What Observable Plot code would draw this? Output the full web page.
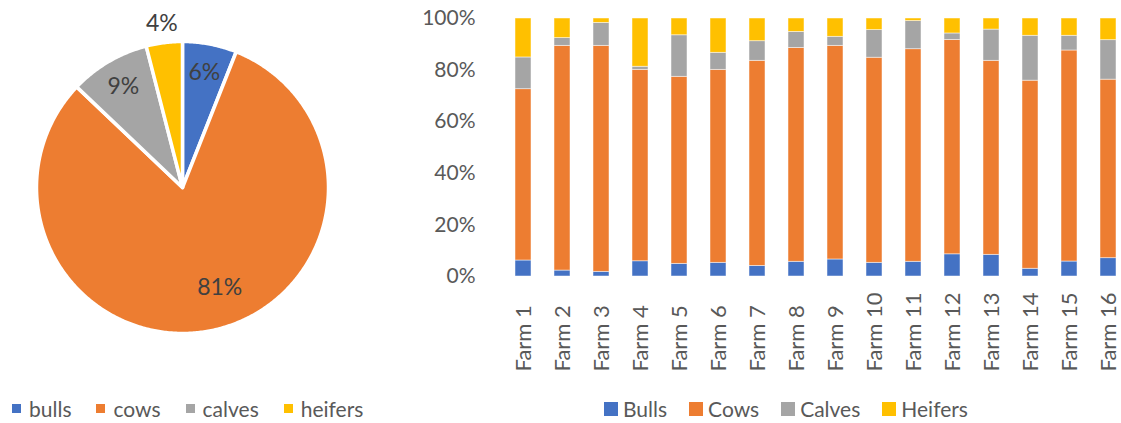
<!DOCTYPE html>
<html>
<head>
<meta charset="utf-8">
<script src="https://cdn.jsdelivr.net/npm/d3@7"></script>
<script src="https://cdn.jsdelivr.net/npm/@observablehq/plot@0.6"></script>
<style>
  body { margin: 0; background: white; }
  #wrap { position: relative; width: 1121px; height: 423px; overflow: hidden; font-family: Lato, "Open Sans", sans-serif; }
  #pie { position: absolute; left: 0; top: 0; }
  #bars { position: absolute; left: 400px; top: 0; }
  .legend { position: absolute; display: flex; align-items: center; color: #595959; white-space: nowrap; }
  .legend .item { display: flex; align-items: center; }
  .legend .sw { display: inline-block; }
  #pieLegend { left: 12px; top: 396px; font-size: 21px; }
  #pieLegend .item { margin-right: 25px; }
  #pieLegend .sw { width: 9px; height: 9px; margin-right: 8px; }
  #barLegend { left: 604px; top: 396px; font-size: 21px; }
  #barLegend .item { margin-right: 22px; }
  #barLegend .sw { width: 14px; height: 14px; margin-right: 5px; }
</style>
</head>
<body>
<div id="wrap">
  <div id="pie"></div>
  <div id="bars"></div>
  <div id="pieLegend" class="legend"></div>
  <div id="barLegend" class="legend"></div>
</div>
<script>
// ---------- data ----------
const pieCategories = ["bulls", "cows", "calves", "heifers"];
const pieValues = [6.0, 81.1, 8.9, 4.0];

const farms = ["Farm 1", "Farm 2", "Farm 3", "Farm 4", "Farm 5", "Farm 6", "Farm 7", "Farm 8",
               "Farm 9", "Farm 10", "Farm 11", "Farm 12", "Farm 13", "Farm 14", "Farm 15", "Farm 16"];
const barCategories = ["Bulls", "Cows", "Calves", "Heifers"];
const bulls   = [6.2, 2.3, 1.8, 5.9, 4.9, 5.3, 4.1, 5.7, 6.6, 5.3, 5.7, 8.6, 8.4, 3.0, 5.8, 7.1];
const cows    = [66.4, 87.1, 87.6, 74.2, 72.5, 74.8, 79.5, 82.9, 82.8, 79.5, 82.4, 83.1, 75.2, 72.9, 81.8, 69.2];
const calves  = [12.3, 3.0, 8.9, 1.2, 16.1, 6.6, 7.6, 6.2, 3.5, 10.7, 10.9, 2.5, 12.1, 17.4, 5.7, 15.3];
const heifers = [15.1, 7.6, 1.7, 18.7, 6.5, 13.3, 8.8, 5.2, 7.1, 4.5, 1.0, 5.8, 4.3, 6.7, 6.7, 8.4];
const yTicks = [0, 0.2, 0.4, 0.6, 0.8, 1.0];

const colors = ["#4472C4", "#ED7D31", "#A5A5A5", "#FFC000"];

// ---------- pie ----------
const R = 146;
const arcs = d3.pie().sort(null).value(d => d.value)(
  pieCategories.map((c, i) => ({cat: c, value: pieValues[i]}))
);
const total = d3.sum(pieValues);
function polygon(a) {
  const pts = [{x: 0, y: 0}];
  const n = Math.max(2, Math.ceil((a.endAngle - a.startAngle) / 0.01));
  for (let k = 0; k <= n; k++) {
    const t = a.startAngle + (a.endAngle - a.startAngle) * k / n;
    pts.push({x: R * Math.sin(t), y: R * Math.cos(t)});
  }
  pts.push({x: 0, y: 0});
  return pts;
}
const labels = arcs.map(a => {
  let mid = (a.startAngle + a.endAngle) / 2;
  const pct = a.data.value / total;
  let r = 0.8 * R;
  if (pct < 0.05) r = R + 19;
  else if (pct > 0.5) { r = 0.73 * R; mid -= 0.14; }
  return {x: r * Math.sin(mid), y: r * Math.cos(mid), text: Math.round(pct * 100) + "%"};
});

const pie = Plot.plot({
  width: 364, height: 380,
  margin: 0,
  x: {domain: [-182, 182], axis: null},
  y: {domain: [-193, 187], axis: null},
  style: {fontFamily: "Lato, sans-serif", background: "transparent"},
  marks: [
    ...arcs.map((a, i) => Plot.line(polygon(a), {
      x: "x", y: "y", fill: colors[i], stroke: "white", strokeWidth: 3.5, strokeLinejoin: "round"
    })),
    Plot.text(labels, {x: "x", y: "y", text: "text", fill: "#404040", fontSize: 23})
  ]
});
document.getElementById("pie").appendChild(pie);

// ---------- stacked bars ----------
const series = [bulls, cows, calves, heifers];
const rows = [];
farms.forEach((f, i) => {
  barCategories.forEach((c, j) => rows.push({farm: f, cat: c, value: series[j][i]}));
});

const bars = Plot.plot({
  width: 721, height: 380,
  marginLeft: 109, marginRight: 0, marginTop: 18, marginBottom: 104,
  style: {fontFamily: "Lato, sans-serif", background: "transparent", color: "#595959"},
  x: {domain: farms, paddingInner: 0.6, paddingOuter: 0.05, axis: null},
  y: {domain: [0, 1], axis: null},
  color: {domain: barCategories, range: colors},
  marks: [
    Plot.barY(rows, Plot.stackY({
      x: "farm", y: "value", fill: "cat", order: barCategories, offset: "normalize",
      stroke: "white", strokeWidth: 0.8, strokeOpacity: 0.6
    })),
    Plot.axisY({ticks: yTicks, tickFormat: d3.format(".0%"), tickSize: 0, tickPadding: 34,
                fontSize: 21, fill: "#595959", label: null}),
    Plot.axisX({tickSize: 0, tickPadding: 0, tickRotate: -90, textAnchor: "start",
                dy: 95, fontSize: 22, fill: "#595959", label: null, ariaLabel: "farm-labels"})
  ]
});
// stretch the rotated farm labels along their reading direction, as in the reference
d3.select(bars).selectAll("g[aria-label='farm-labels'] text, g[aria-label='farm-labels'] g")
  .filter(function() { const t = this.getAttribute("transform"); return t && t.includes("rotate"); })
  .attr("transform", function() { return this.getAttribute("transform") + " scale(1.3,1)"; });
document.getElementById("bars").appendChild(bars);

// ---------- legends ----------
function legend(id, cats) {
  const el = document.getElementById(id);
  cats.forEach((c, i) => {
    const item = document.createElement("span");
    item.className = "item";
    const sw = document.createElement("span");
    sw.className = "sw";
    sw.style.background = colors[i];
    item.appendChild(sw);
    item.appendChild(document.createTextNode(c));
    el.appendChild(item);
  });
}
legend("pieLegend", pieCategories);
legend("barLegend", barCategories);
</script>
</body>
</html>
